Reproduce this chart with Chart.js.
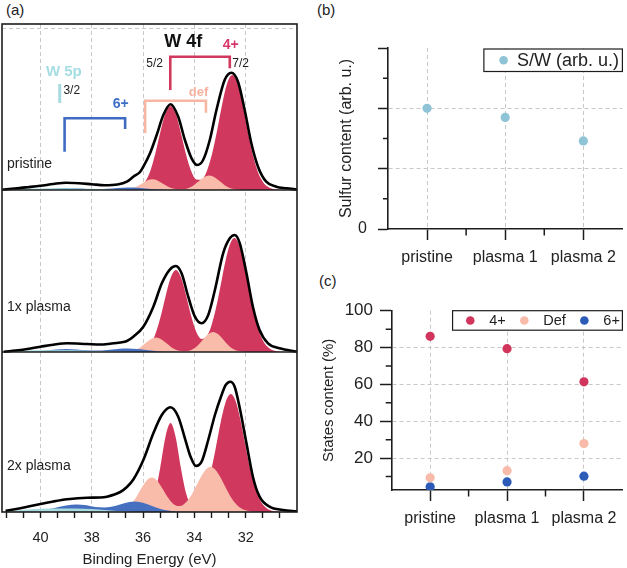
<!DOCTYPE html>
<html>
<head>
<meta charset="utf-8">
<script src="https://cdn.jsdelivr.net/npm/chart.js@4.4.6/dist/chart.umd.min.js"></script>
<style>
  body { margin:0; background:#fff; width:627px; height:568px; position:relative; overflow:hidden;
         font-family:"Liberation Sans", Arial, sans-serif; }
  .box { position:absolute; }
  .tag { position:absolute; font-size:15px; line-height:18px; color:#222; }
</style>
</head>
<body>
<div class="tag" style="left:6px;top:1px">(a)</div>
<div class="tag" style="left:317px;top:1px">(b)</div>
<div class="tag" style="left:319px;top:272px">(c)</div>
<div class="box" style="left:0;top:0;width:305px;height:568px"><canvas id="xps"></canvas></div>
<div class="box" style="left:320px;top:0;width:307px;height:270px"><canvas id="sulfur"></canvas></div>
<div class="box" style="left:320px;top:270px;width:307px;height:298px"><canvas id="states"></canvas></div>
<script>
// ---- panel (a): W 4f / W 5p spectra, [binding energy (eV), intensity (arb.)]
const pristineEnvelope = [[41.48,0.5],[41.0,1.5],[40.5,2.8],[40.0,4.2],[39.5,6],[39.0,7.3],[38.5,6.8],[38.0,5.8],[37.5,4.8],[37.0,5.5],[36.63,8.3],[36.38,13.3],[36.12,18],[35.99,23.3],[35.73,36.7],[35.47,55],[35.21,75],[34.93,85.7],[34.63,73.3],[34.37,50],[34.11,31.7],[33.89,25],[33.66,30],[33.40,50],[33.14,80],[32.82,110],[32.56,117.3],[32.30,108.3],[32.04,80],[31.78,46.7],[31.52,23.3],[31.20,8.3],[30.81,3.3],[30.42,1.7],[30.0,0.5]];
const pristine4plus = [[41.5,0],[36.53,0.2],[36.33,0.8],[36.13,2.7],[35.93,7.8],[35.73,18.3],[35.53,35.7],[35.33,57.5],[35.13,76.4],[34.93,84],[34.73,76.4],[34.53,57.6],[34.33,36],[34.13,19.2],[33.93,10.6],[33.73,10.2],[33.52,18.6],[33.32,35.2],[33.12,58.8],[32.92,85.3],[32.72,106.7],[32.52,115],[32.32,106.7],[32.12,85.3],[31.92,58.8],[31.72,35],[31.52,17.8],[31.32,7.8],[31.12,3],[30.92,1],[30.72,0.3],[30,0]];
const pristineDef = [[41.5,0],[36.84,0.1],[36.64,0.5],[36.44,1.5],[36.24,3.5],[36.04,6.5],[35.84,9.5],[35.64,10.7],[35.44,9.5],[35.24,6.5],[35.04,3.5],[34.84,1.5],[34.64,0.7],[34.44,0.7],[34.22,2],[34.02,4.8],[33.82,8.9],[33.62,12.8],[33.42,14.5],[33.22,12.8],[33.02,8.9],[32.82,4.8],[32.62,2],[32.42,0.7],[32.22,0.2],[32.0,0],[30,0]];
const pristine6plus = [[41.5,0],[40.6,0],[40.2,0.2],[39.8,0.8],[39.4,1.6],[39.0,2.1],[38.6,1.7],[38.2,1.0],[37.8,0.8],[37.4,1.2],[37.0,2.0],[36.6,2.6],[36.2,2.2],[35.8,1.2],[35.4,0.4],[35.0,0.1],[34.6,0],[30,0]];
const pristineW5p = [[41.5,0.2],[41.0,0.8],[40.5,1.3],[40.0,1.6],[39.2,1.7],[38.4,1.5],[37.7,1.0],[37.0,0.4],[36.4,0],[30,0]];

const plasma1Envelope = [[41.43,0.3],[40.78,2],[40.0,5.3],[39.5,7.3],[38.96,8.7],[38.19,8],[37.67,7.5],[37.28,8.3],[36.89,9.5],[36.63,11],[36.38,15.3],[35.99,25.3],[35.60,45.3],[35.27,68.7],[34.95,82.7],[34.72,86],[34.50,78.7],[34.24,55.3],[33.98,35.3],[33.72,28.7],[33.46,37],[33.20,62],[32.88,98.7],[32.62,113.7],[32.43,117],[32.23,108.7],[31.97,78.7],[31.72,45.3],[31.46,22],[31.13,8.7],[30.68,3.7],[30.0,0.3]];
const plasma1_4plus = [[41.5,0],[36.32,0.2],[36.12,0.8],[35.92,2.7],[35.72,7.6],[35.52,17.9],[35.32,34.9],[35.12,56.1],[34.92,74.5],[34.72,82],[34.52,74.5],[34.32,56.3],[34.12,35.5],[33.92,19.8],[33.72,13],[33.52,15.7],[33.34,26.1],[33.14,45.9],[32.94,71.6],[32.74,96.4],[32.59,109.3],[32.44,114],[32.29,109.3],[32.14,96.4],[31.94,71.6],[31.74,45.7],[31.54,25.2],[31.34,12],[31.14,4.9],[30.94,1.7],[30.74,0.5],[30.5,0],[30,0]];
const plasma1Def = [[41.5,0],[36.7,0.2],[36.5,0.7],[36.3,2.0],[36.1,4.8],[35.9,8.9],[35.7,12.8],[35.5,14.5],[35.3,12.8],[35.1,8.9],[34.9,4.8],[34.7,2.0],[34.5,0.9],[34.27,1.0],[34.07,2.8],[33.87,6.6],[33.67,12.2],[33.47,17.7],[33.27,20],[33.07,17.7],[32.87,12.2],[32.67,6.6],[32.47,2.8],[32.27,0.9],[32.07,0.2],[31.8,0],[30,0]];
const plasma1_6plus = [[41.5,0],[41.0,0],[40.6,0.2],[40.2,0.6],[39.8,1.5],[39.4,2.6],[39.0,3.1],[38.6,2.6],[38.2,1.7],[37.8,1.4],[37.4,2.0],[37.0,3.0],[36.6,3.4],[36.2,2.9],[35.8,1.7],[35.4,0.6],[35.0,0.15],[34.6,0],[30,0]];
const plasma1W5p = [[41.5,0.2],[41.0,0.9],[40.5,1.4],[40.0,1.7],[39.2,1.8],[38.4,1.6],[37.7,1.1],[37.0,0.4],[36.4,0],[30,0]];

const plasma2Envelope = [[41.36,1.3],[40.78,3.7],[40.0,8],[39.5,10.5],[38.96,12.7],[38.19,14.3],[37.67,14.5],[37.41,15.3],[36.89,20],[36.63,25],[36.38,32.5],[35.99,52],[35.60,78.7],[35.27,97],[34.93,104.7],[34.63,95.3],[34.37,73.7],[34.15,55.3],[33.94,46],[33.72,50.3],[33.46,72],[33.20,97],[32.94,117],[32.78,127],[32.60,130.3],[32.43,125.3],[32.23,103.7],[31.97,68.7],[31.72,35.3],[31.46,15.3],[31.07,5.3],[30.55,2],[30.0,0.7]];
const plasma2_4plus = [[41.5,0],[36.13,0],[35.93,1.2],[35.73,5.6],[35.53,18.7],[35.33,44.5],[35.13,74.8],[34.93,89],[34.73,74.8],[34.53,44.5],[34.33,19.2],[34.13,7.3],[33.93,5.8],[33.78,9.4],[33.58,19.9],[33.38,37.9],[33.18,62.2],[32.98,88.9],[32.78,110],[32.58,118],[32.38,110],[32.18,88.9],[31.98,62.2],[31.78,37.9],[31.58,19.9],[31.38,9.2],[31.18,3.7],[30.98,1.2],[30.78,0.4],[30.5,0],[30,0]];
const plasma2Def = [[41.5,0],[37.06,0.4],[36.86,1.3],[36.66,3.5],[36.46,8.0],[36.26,15.1],[36.06,23.9],[35.86,31.5],[35.66,34.5],[35.46,31.5],[35.26,24.0],[35.06,15.4],[34.86,8.9],[34.66,5.9],[34.46,6.8],[34.17,14.7],[33.97,23.9],[33.77,33.9],[33.57,42.0],[33.37,45.3],[33.17,42.0],[32.97,33.9],[32.77,23.9],[32.57,14.5],[32.37,7.7],[32.17,3.5],[31.97,1.4],[31.77,0.5],[31.5,0.1],[31.2,0],[30,0]];
const plasma2_6plus = [[41.5,0],[41.2,0],[40.6,0.3],[40.0,1.5],[39.5,3.8],[39.0,6.5],[38.6,7.6],[38.2,6.8],[37.85,5.0],[37.5,4.6],[37.1,6.0],[36.7,9.0],[36.35,10.5],[35.95,8.8],[35.55,5.0],[35.15,2.0],[34.75,0.6],[34.3,0.1],[33.8,0],[30,0]];
const plasma2W5p = [[41.5,0.3],[41.0,1.5],[40.5,2.6],[40.0,3.3],[39.3,3.6],[38.6,3.4],[38.0,3.0],[37.5,2.0],[37.0,0.9],[36.5,0.3],[36.0,0],[30,0]];

const spectraNames = ['pristine', '1x plasma', '2x plasma'];
const energyTickLabels = [40, 38, 36, 34, 32];

// ---- panels (b) and (c)
const samples = ['pristine', 'plasma 1', 'plasma 2'];
const sulfurRatio = [4.0, 3.7, 2.92];
const sulfurTicks = [0, 2, 4, 6];
const state4plus = [86.1, 79.4, 61.4];
const stateDef = [9.3, 13.2, 27.9];
const state6plus = [4.4, 7.1, 10.2];
const statesTicks = [20, 40, 60, 80, 100];

const FONT = '"Liberation Sans", Arial, sans-serif';
const INK = '#1d1d1d';
const GRID = '#c8c8c8';
const C4 = '#d0395d', CDEF = '#f9bcab', C6 = '#4670bf', C5P = '#a8dbe0';

// each spectrum sits in its own band of the shared y scale
const spectra = [
  {offset: 322, env: pristineEnvelope, w4: pristine4plus, def: pristineDef, w6: pristine6plus, w5p: pristineW5p},
  {offset: 160, env: plasma1Envelope, w4: plasma1_4plus, def: plasma1Def, w6: plasma1_6plus, w5p: plasma1W5p},
  {offset: 0,   env: plasma2Envelope, w4: plasma2_4plus, def: plasma2Def, w6: plasma2_6plus, w5p: plasma2W5p},
];

function shifted(pts, off){ return pts.map(([e, v]) => ({x: e, y: v + off})); }
function area(pts, off, color, order){
  return {data: shifted(pts, off), backgroundColor: color, borderWidth: 0, pointRadius: 0,
          fill: {value: off}, cubicInterpolationMode: 'monotone', order};
}

const xpsSets = [];
spectra.forEach(s => {
  xpsSets.push(area(s.w4, s.offset, C4, 4));
  xpsSets.push(area(s.def, s.offset, CDEF, 3));
  xpsSets.push(area(s.w6, s.offset, C6, 2));
  xpsSets.push(area(s.w5p, s.offset, C5P, 1));
  xpsSets.push({data: shifted(s.env, s.offset), borderColor: '#000', borderWidth: 2.6, pointRadius: 0,
                fill: false, cubicInterpolationMode: 'monotone', order: 0});
});

const isLabelled = v => energyTickLabels.find(l => Math.abs(l - v) < 1e-3);

// annotation anchors in data units (eV, band height)
const brackets = [
  {color: C4,        from: 34.94, to: 32.62, top: 455.3, fromEnd: 422,   toEnd: 443.7},
  {color: '#f8b6a3', from: 35.92, to: 33.55, top: 411.3, fromEnd: 379,   toEnd: 399.3},
  {color: '#3f6cc2', from: 39.06, to: 36.70, top: 393.7, fromEnd: 360.3, toEnd: 383},
];
const notes = [
  {text: 'W 4f', e: 34.43, v: 470,   font: 'bold 18px', color: '#111'},
  {text: '4+',   e: 32.58, v: 466.5, font: 'bold 14px', color: '#d6366a'},
  {text: '5/2',  e: 35.55, v: 448,   font: '12px',      color: '#222'},
  {text: '7/2',  e: 32.20, v: 448,   font: '12px',      color: '#222'},
  {text: 'def',  e: 33.84, v: 420,   font: 'bold 13px', color: '#f6b19e'},
  {text: '6+',   e: 36.87, v: 407.5, font: 'bold 14px', color: '#3f6fc6'},
  {text: 'W 5p', e: 39.09, v: 440,   font: 'bold 15px', color: '#a5dde2'},
  {text: '3/2',  e: 38.78, v: 421,   font: '12px',      color: '#222'},
];

const xpsNotes = {
  id: 'xpsNotes',
  afterDatasetsDraw(chart){
    const {ctx, chartArea: a, scales: {x, y}} = chart;
    const X = e => x.getPixelForValue(e), Y = v => y.getPixelForValue(v);
    ctx.save();
    ctx.lineWidth = 2.6;
    brackets.forEach(b => {
      ctx.strokeStyle = b.color;
      ctx.beginPath();
      ctx.moveTo(X(b.from), Y(b.fromEnd)); ctx.lineTo(X(b.from), Y(b.top));
      ctx.lineTo(X(b.to), Y(b.top)); ctx.lineTo(X(b.to), Y(b.toEnd));
      ctx.stroke();
    });
    ctx.strokeStyle = C5P; ctx.lineWidth = 3;
    ctx.beginPath(); ctx.moveTo(X(39.25), Y(428)); ctx.lineTo(X(39.25), Y(409)); ctx.stroke();

    ctx.textAlign = 'center'; ctx.textBaseline = 'middle';
    notes.forEach(n => {
      ctx.font = `${n.font} ${FONT}`; ctx.fillStyle = n.color;
      ctx.fillText(n.text, X(n.e), Y(n.v));
    });
    ctx.textAlign = 'left'; ctx.font = `14px ${FONT}`; ctx.fillStyle = '#222';
    spectraNames.forEach((name, i) => ctx.fillText(name, a.left + 5, Y(spectra[i].offset + [26, 45, 46][i])));

    ctx.strokeStyle = INK; ctx.lineWidth = 1.6;
    ctx.strokeRect(a.left, a.top, a.right - a.left, a.bottom - a.top);
    spectra.slice(0, 2).forEach(s => {
      ctx.beginPath(); ctx.moveTo(a.left, Y(s.offset)); ctx.lineTo(a.right, Y(s.offset)); ctx.stroke();
    });
    ctx.restore();
  }
};

new Chart(document.getElementById('xps'), {
  type: 'line',
  data: {datasets: xpsSets},
  options: {
    animation: false, responsive: true, maintainAspectRatio: false, events: [],
    layout: {padding: {left: 2, top: 24, right: 8, bottom: 0}},
    plugins: {legend: {display: false}, tooltip: {enabled: false}},
    scales: {
      x: {
        type: 'linear', reverse: true, min: 30, max: 41.5,
        afterBuildTicks: s => {
          const t = [];
          for (let i = 1; 30 + i * 2 / 3 < 41.5; i++) t.push({value: 30 + i * 2 / 3});
          s.ticks = t;
        },
        afterFit: s => { s.height = 56; },
        ticks: {autoSkip: false, maxRotation: 0, padding: 11, color: '#222', font: {family: FONT, size: 14.5},
                callback: v => { const l = isLabelled(v); return l === undefined ? '' : String(l); }},
        grid: {color: c => (c.tick && isLabelled(c.tick.value) !== undefined) ? GRID : 'rgba(0,0,0,0)',
               tickColor: INK, tickLength: 6, tickWidth: 1.4, lineWidth: 1, tickBorderDash: []},
        border: {display: false, dash: [4, 3]},
        title: {display: true, text: 'Binding Energy (eV)', color: '#222', font: {family: FONT, size: 15},
                padding: {top: 0, bottom: -1}}
      },
      y: {
        type: 'linear', min: 0, max: 488,
        afterBuildTicks: s => { s.ticks = [{value: 483}]; },
        afterFit: s => { s.width = 0; },
        ticks: {display: false},
        grid: {color: GRID, drawTicks: false, lineWidth: 1},
        border: {display: false, dash: [4, 3]}
      }
    }
  },
  plugins: [xpsNotes]
});

// ---- shared bits for (b) and (c)
const minorTicks = {
  id: 'minorTicks',
  afterDraw(chart, args, o){
    const {ctx, chartArea: a, scales: {x, y}} = chart;
    ctx.save(); ctx.strokeStyle = INK; ctx.lineWidth = 1.5; ctx.beginPath();
    o.x.forEach(v => { const p = x.getPixelForValue(v); ctx.moveTo(p, a.bottom); ctx.lineTo(p, a.bottom + o.xLen); });
    o.y.forEach(v => { const p = y.getPixelForValue(v); ctx.moveTo(a.left, p); ctx.lineTo(a.left - o.yLen, p); });
    ctx.stroke(); ctx.restore();
  }
};

const boxLegend = {
  id: 'boxLegend',
  afterDraw(chart, args, o){
    const {ctx, chartArea: a} = chart;
    const sets = chart.data.datasets;
    ctx.save();
    ctx.font = `${o.size}px ${FONT}`;
    const widths = sets.map(d => ctx.measureText(d.label).width);
    let w = o.lead;
    sets.forEach((d, i) => { w += o.toText + widths[i] + (i < sets.length - 1 ? o.gap : o.trail); });
    const left = a.right - w, top = a.top + o.dy;
    ctx.fillStyle = '#fff'; ctx.fillRect(left, top, w, o.h);
    ctx.strokeStyle = INK; ctx.lineWidth = 1.2; ctx.strokeRect(left, top, w, o.h);
    let cx = left + o.lead; const cy = top + o.h / 2;
    ctx.textAlign = 'left'; ctx.textBaseline = 'middle';
    sets.forEach((d, i) => {
      ctx.fillStyle = d.backgroundColor;
      ctx.beginPath(); ctx.arc(cx, cy, o.r, 0, Math.PI * 2); ctx.fill();
      ctx.fillStyle = '#222'; ctx.fillText(d.label, cx + o.toText, cy + 0.5);
      cx += o.toText + widths[i] + o.gap;
    });
    ctx.restore();
  }
};

function sampleAxis(height){
  return {
    type: 'linear', min: -0.5, max: 2.5,
    afterBuildTicks: s => { s.ticks = samples.map((_, i) => ({value: i})); },
    afterFit: s => { s.height = height; },
    ticks: {autoSkip: false, maxRotation: 0, padding: 8, color: '#222', font: {family: FONT, size: 16},
            callback: v => samples[v]},
    grid: {color: GRID, tickColor: INK, tickLength: 11, tickWidth: 1.5, lineWidth: 1, tickBorderDash: []},
    border: {color: INK, width: 1.6, dash: [4, 3]}
  };
}

new Chart(document.getElementById('sulfur'), {
  type: 'scatter',
  data: {datasets: [{label: 'S/W (arb. u.)', data: samples.map((s, i) => ({x: i, y: sulfurRatio[i]})),
                     backgroundColor: '#8ec4d6', pointRadius: 4.6, borderWidth: 0}]},
  options: {
    animation: false, responsive: true, maintainAspectRatio: false, events: [],
    layout: {padding: {left: 0, top: 48, right: 4, bottom: 0}},
    plugins: {legend: {display: false}, tooltip: {enabled: false},
              minorTicks: {x: [0.5, 1.5], xLen: 6.5, y: [1, 3, 5], yLen: 5},
              boxLegend: {size: 18, lead: 19.7, toText: 13.3, gap: 0, trail: 3.5, h: 22.5, dy: 1, r: 4.3}},
    scales: {
      x: sampleAxis(41),
      y: {
        type: 'linear', min: 0, max: 6,
        afterBuildTicks: s => { s.ticks = sulfurTicks.map(v => ({value: v})); },
        afterFit: s => { s.width = 68; },
        ticks: {padding: 11, color: '#222', font: {family: FONT, size: 16}, callback: v => v === 0 ? '0' : ''},
        grid: {color: c => (c.tick && c.tick.value > 0 && c.tick.value < 6) ? GRID : 'rgba(0,0,0,0)',
               tickColor: INK, tickLength: 10, tickWidth: 1.5, lineWidth: 1, tickBorderDash: []},
        border: {color: INK, width: 1.6, dash: [4, 3]},
        title: {display: true, text: 'Sulfur content (arb. u.)', color: '#222', font: {family: FONT, size: 16},
                padding: {top: 17, bottom: 0}}
      }
    }
  },
  plugins: [minorTicks, boxLegend]
});

new Chart(document.getElementById('states'), {
  type: 'scatter',
  data: {datasets: [
    {label: '4+',  data: samples.map((s, i) => ({x: i, y: state4plus[i]})), backgroundColor: '#d1355c', pointRadius: 4.6, borderWidth: 0},
    {label: 'Def', data: samples.map((s, i) => ({x: i, y: stateDef[i]})),   backgroundColor: '#f8bba9', pointRadius: 4.6, borderWidth: 0},
    {label: '6+',  data: samples.map((s, i) => ({x: i, y: state6plus[i]})), backgroundColor: '#2c5cb8', pointRadius: 4.6, borderWidth: 0}
  ]},
  options: {
    animation: false, responsive: true, maintainAspectRatio: false, events: [],
    layout: {padding: {left: 0, top: 40.7, right: 1.3, bottom: 0}},
    plugins: {legend: {display: false}, tooltip: {enabled: false},
              minorTicks: {x: [0.5, 1.5], xLen: 6.5, y: [10, 30, 50, 70, 90], yLen: 6},
              boxLegend: {size: 14.5, lead: 17.7, toText: 19, gap: 18.5, trail: 2.5, h: 19.5, dy: 0, r: 4.3}},
    scales: {
      x: sampleAxis(78),
      y: {
        type: 'linear', min: 2.7, max: 100,
        afterBuildTicks: s => { s.ticks = statesTicks.map(v => ({value: v})); },
        afterFit: s => { s.width = 71.7; },
        ticks: {padding: 7, color: '#222', font: {family: FONT, size: 17}},
        grid: {color: c => (c.tick && c.tick.value < 100) ? GRID : 'rgba(0,0,0,0)',
               tickColor: INK, tickLength: 11.7, tickWidth: 1.5, lineWidth: 1, tickBorderDash: []},
        border: {color: INK, width: 1.6, dash: [4, 3]},
        title: {display: true, text: 'States content (%)', color: '#222', font: {family: FONT, size: 15},
                padding: {top: 0, bottom: 0}}
      }
    }
  },
  plugins: [minorTicks, boxLegend]
});
</script>
</body>
</html>
